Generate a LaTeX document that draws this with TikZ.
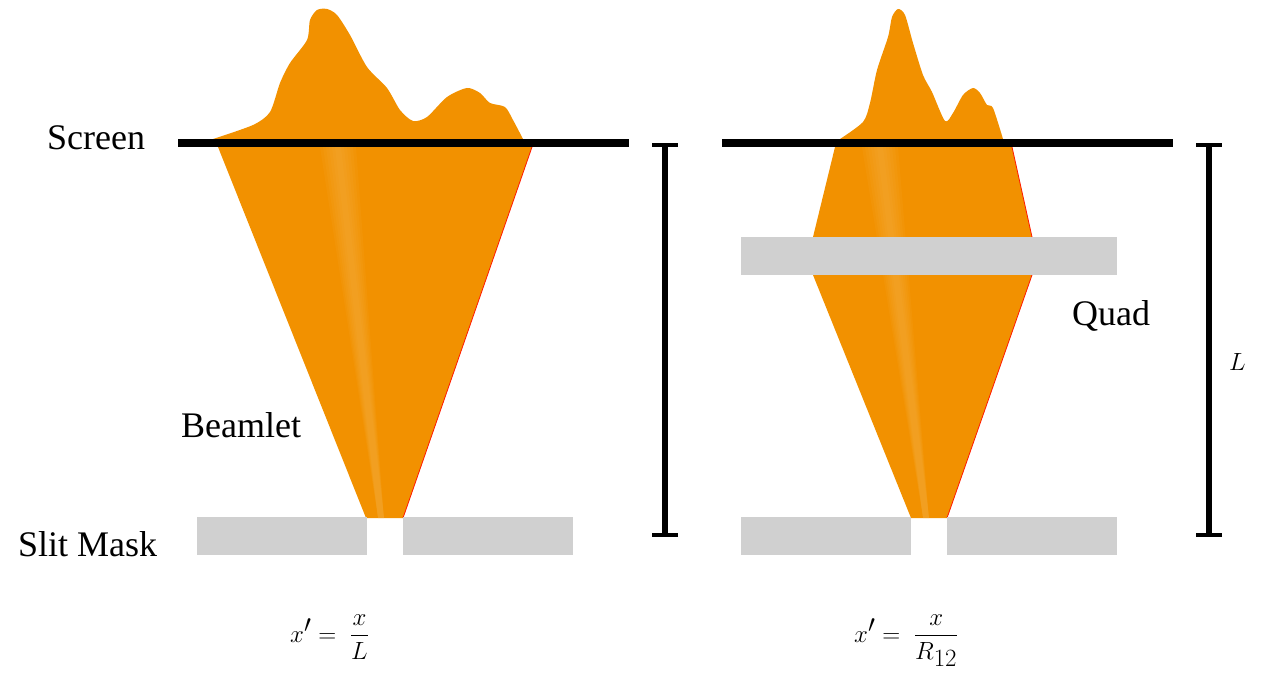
\documentclass[tikz,border=0pt]{standalone}
\usepackage{amsmath}
\usepackage{fontspec}
\setmainfont{Liberation Serif}
\usetikzlibrary{arrows.meta}
\definecolor{beamorange}{HTML}{F29100}
\definecolor{beamlight}{HTML}{F8B850}
\definecolor{maskgray}{HTML}{D0D0D0}

\begin{document}
\begin{tikzpicture}[x=1pt, y=-1pt, every node/.style={inner sep=0pt, font=\fontsize{36}{40}\selectfont}]
    % styles
    \tikzstyle{beam} = [fill=beamorange]
    \tikzstyle{streak} = [fill=beamlight, opacity=0.09]
    \tikzstyle{edge} = [draw=red!80!orange, line width=0.8pt]
    \tikzstyle{mask} = [fill=maskgray]
    \tikzstyle{screen} = [line width=7.5pt]
    \tikzstyle{span} = [line width=6pt, {Bar[width=26pt,line width=4pt]}-{Bar[width=26pt,line width=4pt]}]
    \tikzstyle{label} = [anchor=base west]
    \tikzstyle{eq} = [anchor=base west, font=\fontsize{40}{44}\selectfont]

    \useasboundingbox (0,0) rectangle (1265,676);

    % beam without quad
    \fill [beam] plot[smooth, tension=0.45] coordinates {(213,139) (253,125) (270,112) (280,83) (290,63) (307,40) (310,20) (317,10) (327,9) (337,15) (350,35) (367,67) (387,88) (400,110) (413,121) (427,117) (447,97) (467,88) (480,93) (490,103) (505,107) (513,120) (523,139)}
        -- (532,147) -- (403,518) -- (366,518) -- (218,147) -- cycle;
    \foreach \w in {3,6,...,18} {
        \fill [streak] (378,518) -- (384,518) -- (338+\w,147) -- (338-\w,147) -- cycle;
    }
    \draw [edge] (532,147) -- (403,518);

    % beam with quad
    \fill [beam] plot[smooth, tension=0.45] coordinates {(840,139) (863,122) (870,103) (877,70) (888,37) (892,17) (898,9) (905,15) (913,43) (923,75) (932,92) (945,121) (953,113) (963,95) (973,88) (980,93) (987,105) (993,108) (1003,139)}
        -- (1012,147) -- (1032,237) -- (1032,275) -- (947,518) -- (911,518) -- (813,275) -- (813,237) -- (835,147) -- cycle;
    \begin{scope}
        \clip (835,147) -- (1012,147) -- (1032,237) -- (1032,275) -- (947,518) -- (911,518) -- (813,275) -- (813,237) -- cycle;
        \foreach \w in {3,6,...,18} {
            \fill [streak] (923,518) -- (929,518) -- (880+\w,147) -- (880-\w,147) -- cycle;
        }
    \end{scope}
    \draw [edge] (1012,147) -- (1032,237);
    \draw [edge] (1032,275) -- (947,518);

    % masks
    \fill [mask] (197,517) rectangle (367,555);
    \fill [mask] (403,517) rectangle (573,555);
    \fill [mask] (741,517) rectangle (911,555);
    \fill [mask] (947,517) rectangle (1117,555);
    \fill [mask] (741,237) rectangle (1117,275);

    % screens
    \coordinate (screenAL) at (178,143);
    \coordinate (screenAR) at (629,143);
    \coordinate (screenBL) at (722,143);
    \coordinate (screenBR) at (1173,143);
    \draw [screen] (screenAL) -- (screenAR);
    \draw [screen] (screenBL) -- (screenBR);

    % distance bars
    \coordinate (spanAT) at (665,143);
    \coordinate (spanAB) at (665,537);
    \coordinate (spanBT) at (1209,143);
    \coordinate (spanBB) at (1209,537);
    \draw [span] (spanAT) -- (spanAB);
    \draw [span] (spanBT) -- (spanBB);

    % labels
    \node (screenlbl) [label] at (47,150) {Screen};
    \node (beamletlbl) [label] at (181,437) {Beamlet};
    \node (slitlbl) [label] at (18,556) {Slit Mask};
    \node (quadlbl) [label] at (1072,325) {Quad};
    \node (lenlbl) [eq] at (1229,370) {$L$};

    % equations
    \node (eqA) [eq] at (290,642) {$x' =\; \dfrac{x}{L}$};
    \node (eqB) [eq] at (854,642) {$x' =\; \dfrac{x}{R_{12}}$};
\end{tikzpicture}
\end{document}
